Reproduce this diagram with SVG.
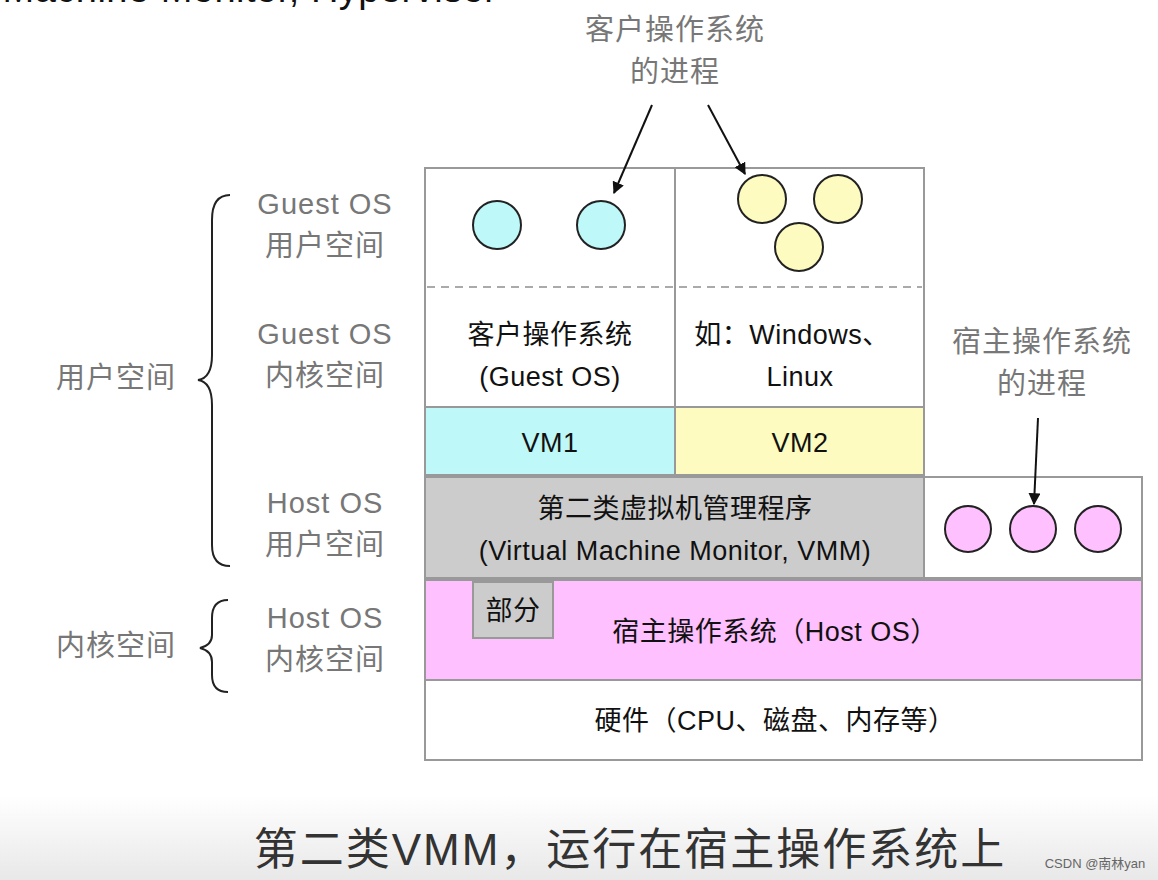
<svg xmlns="http://www.w3.org/2000/svg" width="1158" height="880" viewBox="0 0 1158 880">
<defs>
<style>
.t{font-family:"Liberation Sans","Noto Sans CJK SC",sans-serif;font-size:27px;fill:#111;text-anchor:middle;letter-spacing:0.5px}
.g{fill:#777;font-size:29px;letter-spacing:1px}
.b{stroke:#999;stroke-width:2}
.c{stroke:#222;stroke-width:2}
.br{fill:none;stroke:#222;stroke-width:2}
.cy{fill:#bff8f8}.ye{fill:#fdfbbf}.pk{fill:#ffc0ff}.gr{fill:#cccccc}.wh{fill:#fff}
</style>
<marker id="ah" viewBox="0 0 10 10" refX="9" refY="5" markerWidth="6" markerHeight="6" orient="auto"><path d="M0,0L10,5L0,10z" fill="#111"/></marker>
<linearGradient id="bg" x1="0" y1="0" x2="0" y2="1"><stop offset="0" stop-color="#fff"/><stop offset="1" stop-color="#e8e8e8"/></linearGradient>
</defs>
<rect width="1158" height="880" fill="#fff"/>
<rect y="795" width="1158" height="85" fill="url(#bg)"/>
<text x="250" y="2" class="t" style="font-size:38px">Machine Monitor, Hypervisor</text>
<g id="vm1"><rect x="425" y="168" width="250" height="239" class="b wh"/>
<circle cx="497" cy="225" r="24" class="c cy"/><circle cx="601" cy="225" r="24" class="c cy"/>
<text x="550" y="344" class="t">客户操作系统</text><text x="550" y="386" class="t">(Guest OS)</text>
<rect x="425" y="407" width="250" height="68" class="b cy"/><text x="550" y="452" class="t">VM1</text></g>
<g id="vm2"><rect x="675" y="168" width="249" height="239" class="b wh"/>
<circle cx="762" cy="199" r="24" class="c ye"/><circle cx="838" cy="199" r="24" class="c ye"/><circle cx="799" cy="247" r="24" class="c ye"/>
<text x="792" y="344" class="t">如：Windows、</text><text x="800" y="386" class="t">Linux</text>
<rect x="675" y="407" width="249" height="68" class="b ye"/><text x="800" y="452" class="t">VM2</text></g>
<line x1="427" y1="287" x2="922" y2="287" stroke="#aaa" stroke-width="2" stroke-dasharray="8,6"/>
<g id="vmm"><rect x="425" y="477" width="499" height="101" class="b gr"/>
<text x="675" y="518" class="t">第二类虚拟机管理程序</text><text x="675" y="560" class="t">(Virtual Machine Monitor, VMM)</text></g>
<g id="hostproc"><rect x="924" y="477" width="218" height="101" class="b wh"/>
<circle cx="968" cy="529" r="23" class="c pk"/><circle cx="1033" cy="529" r="23" class="c pk"/><circle cx="1098" cy="529" r="23" class="c pk"/></g>
<g id="hostos"><rect x="425" y="580" width="717" height="100" class="b pk"/>
<text x="775" y="641" class="t">宿主操作系统（Host OS）</text>
<rect x="473" y="582" width="80" height="56" class="b gr"/><text x="513" y="620" class="t">部分</text></g>
<g id="hw"><rect x="425" y="680" width="717" height="80" class="b wh"/><text x="775" y="730" class="t">硬件（CPU、磁盘、内存等）</text></g>
<g id="labels">
<text x="675" y="40" class="t g">客户操作系统</text><text x="675" y="82" class="t g">的进程</text>
<text x="1042" y="352" class="t g">宿主操作系统</text><text x="1042" y="394" class="t g">的进程</text>
<text x="325" y="214" class="t g">Guest OS</text><text x="325" y="256" class="t g">用户空间</text>
<text x="325" y="344" class="t g">Guest OS</text><text x="325" y="386" class="t g">内核空间</text>
<text x="325" y="513" class="t g">Host OS</text><text x="325" y="555" class="t g">用户空间</text>
<text x="325" y="628" class="t g">Host OS</text><text x="325" y="670" class="t g">内核空间</text>
<text x="116" y="388" class="t g">用户空间</text><text x="116" y="656" class="t g">内核空间</text>
<text x="630" y="865" class="t" style="font-size:44px;fill:#333;letter-spacing:2px">第二类VMM，运行在宿主操作系统上</text>
<text x="1095" y="868" class="t" style="font-size:13px;fill:#666;letter-spacing:0">CSDN @南林yan</text>
</g>
<g id="connectors">
<path class="br" d="M230,195 Q212,195 212,220 L212,355 Q212,378 198,380 Q212,382 212,405 L212,545 Q212,566 230,566"/>
<path class="br" d="M228,600 Q212,600 212,618 L212,635 Q212,645 200,648 Q212,651 212,662 L212,675 Q212,692 228,692"/>
<line x1="652" y1="105" x2="614" y2="193" stroke="#111" stroke-width="2" marker-end="url(#ah)"/>
<line x1="708" y1="105" x2="745" y2="174" stroke="#111" stroke-width="2" marker-end="url(#ah)"/>
<line x1="1038" y1="418" x2="1034" y2="504" stroke="#111" stroke-width="2" marker-end="url(#ah)"/>
</g>
</svg>
